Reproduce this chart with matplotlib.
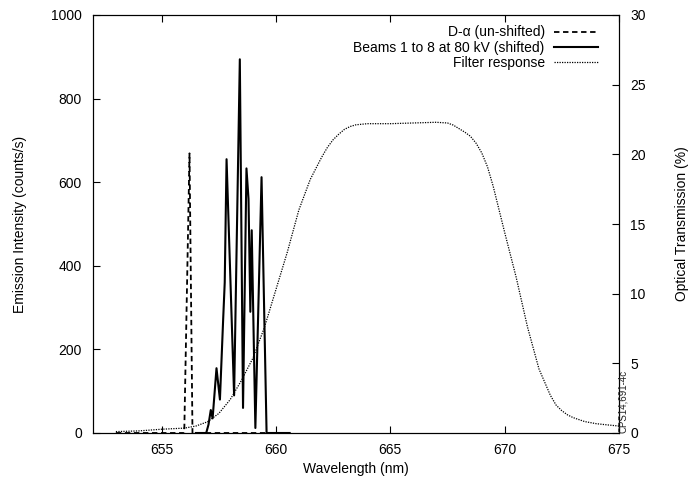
import matplotlib
matplotlib.use("Agg")
import matplotlib.pyplot as plt

plt.rcParams["font.family"] = ["Liberation Sans", "DejaVu Sans"]
plt.rcParams["font.size"] = 10

# D-alpha (un-shifted) line
dalpha_wl = [653.0, 655.0, 655.99, 656.22, 656.35, 658.0, 660.6]
dalpha_val = [0, 0, 0, 669, 0, 0, 0]

# Beams 1 to 8 at 80 kV (shifted)
beam_wl = [656.5, 656.95, 657.05, 657.15, 657.23, 657.4, 657.55, 657.69,
           657.76, 657.84, 658.17, 658.42, 658.56, 658.71, 658.8, 658.88,
           658.94, 659.1, 659.37, 659.59, 660.6]
beam_val = [0, 0, 20, 55, 35, 155, 80, 270,
            360, 655, 90, 894, 60, 633, 560, 290,
            485, 12, 612, 0, 0]

# Filter response (%)
filter_wl = [653.0, 654.0, 655.0, 656.0, 656.5, 657.0, 657.5, 658.0, 658.5,
             659.0, 659.5, 660.0, 660.5, 661.0, 661.5, 662.0, 662.25, 662.5,
             662.75, 663.0, 663.25, 663.5, 664.0, 665.0, 666.0, 667.0, 667.5,
             667.75, 668.0, 668.25, 668.5, 668.75, 669.0, 669.25, 669.5,
             670.0, 670.5, 671.0, 671.5, 672.0, 672.25, 672.5, 672.75, 673.0,
             673.5, 674.0, 674.5, 675.0]
filter_val = [0.1, 0.15, 0.27, 0.35, 0.5, 0.8, 1.4, 2.4, 3.8,
              5.4, 7.6, 10.3, 13.0, 16.0, 18.2, 19.8, 20.5, 21.05,
              21.45, 21.8, 22.0, 22.12, 22.2, 22.2, 22.25, 22.3, 22.25,
              22.1, 21.85, 21.6, 21.3, 20.8, 20.1, 19.1, 17.7,
              14.4, 11.2, 7.6, 4.6, 2.7, 2.0, 1.6, 1.3, 1.1,
              0.82, 0.67, 0.58, 0.5]


def main() -> None:
    fig = plt.figure(figsize=(6.95, 4.82), dpi=100)
    ax = fig.add_axes([93 / 695, 1 - 433 / 482, 526 / 695, 418 / 482])
    ax2 = ax.twinx()

    l1, = ax.plot(dalpha_wl, dalpha_val, color="black", lw=1.3,
                  linestyle=(0, (3, 2)), label="D-α (un-shifted)")
    l2, = ax.plot(beam_wl, beam_val, color="black", lw=1.5,
                  label="Beams 1 to 8 at 80 kV (shifted)")
    l3, = ax2.plot(filter_wl, filter_val, color="black", lw=0.9,
                   linestyle=(0, (1, 1)), label="Filter response")

    ax.set_xlim(652, 675)
    ax.set_ylim(0, 1000)
    ax2.set_ylim(0, 30)
    ax.set_xticks([655, 660, 665, 670, 675])
    ax.set_yticks([0, 200, 400, 600, 800, 1000])
    ax2.set_yticks([0, 5, 10, 15, 20, 25, 30])

    ax.tick_params(axis="x", direction="in", length=5, width=0.8, pad=7,
                   top=True, labelsize=10)
    ax.tick_params(axis="y", direction="in", length=5, width=0.8, pad=8,
                   labelsize=10)
    ax2.tick_params(axis="y", direction="in", length=5, width=0.8, pad=8,
                    labelsize=10)

    ax.set_xlabel("Wavelength (nm)", labelpad=4)
    ax.set_ylabel("Emission Intensity (counts/s)", labelpad=17)
    ax2.set_ylabel("Optical Transmission (%)", labelpad=21)

    ax2.legend(handles=[l1, l2, l3], loc="upper right", frameon=False,
               markerfirst=False, handlelength=3.1, handletextpad=0.7,
               labelspacing=0.08, borderaxespad=0.2,
               bbox_to_anchor=(0.975, 0.995), fontsize=10)

    fig.text(623 / 695, 1 - 433 / 482, "CPS14,691-4c", rotation=90,
             fontsize=7, color="#222222", ha="center", va="bottom")

    fig.savefig("out.png", dpi=100)


if __name__ == "__main__":
    main()
